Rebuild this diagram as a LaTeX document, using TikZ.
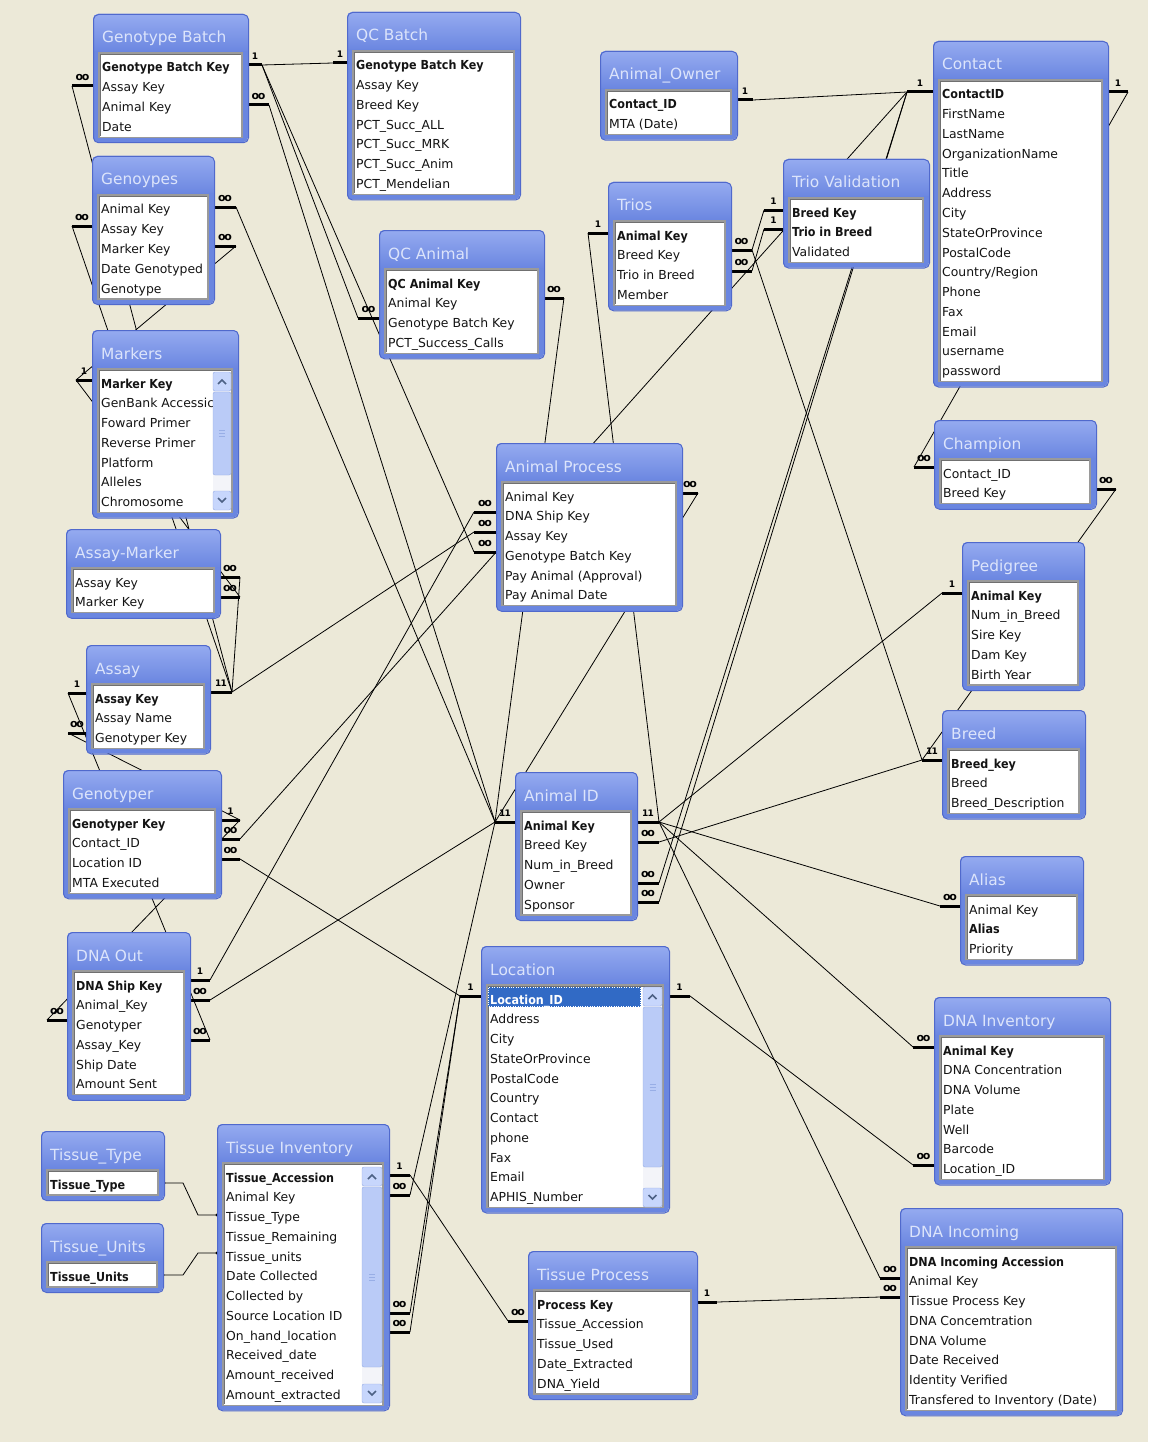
\documentclass[tikz,border=0pt]{standalone}
\usepackage{fontspec}
\usepackage{graphicx}
\setmainfont{DejaVu Sans}
\usetikzlibrary{calc}

\definecolor{bg}{HTML}{ECE9D8}
\definecolor{frameblue}{HTML}{6A86E0}
\definecolor{frameedge}{HTML}{5069CC}
\definecolor{titletop}{HTML}{95ABF0}
\definecolor{titlebot}{HTML}{6C87E1}
\definecolor{titletext}{HTML}{DCE4FB}
\definecolor{boxedge}{HTML}{9A9A9A}
\definecolor{boxdark}{HTML}{707070}
\definecolor{fieldink}{HTML}{141414}
\definecolor{sbtrack}{HTML}{F3F4F9}
\definecolor{sbbtn}{HTML}{C7D6FC}
\definecolor{sbthumb}{HTML}{BACBF7}
\definecolor{sbedge}{HTML}{98AEE6}
\definecolor{sbarrow}{HTML}{4D6185}
\definecolor{selblue}{HTML}{316AC5}

\tikzset{
  conn/.style={line width=0.8pt, black},
  stubline/.style={line width=3pt, black},
  card/.style={font=\fontsize{11}{11}\selectfont\bfseries, inner sep=0pt},
  tbltitle/.style={font=\fontsize{15.4}{16}\selectfont, text=titletext, anchor=base west, inner sep=0pt},
  fieldtext/.style={font=\fontsize{12.4}{14}\selectfont, text=fieldink, anchor=base west, inner sep=0pt},
}

% key fields: bold, slightly condensed
\newcommand\keyf[1]{\scalebox{0.9}[1]{\bfseries #1}}
% selected row text
\newcommand\selkey[1]{\textcolor{white}{\keyf{#1}}}
% cardinality marks
\newcommand\infsym{o\kern-1.3pt o}
\newcommand\onesym{{\fontsize{9}{9}\selectfont 1}}
\newcommand\twoone{{\fontsize{9}{9}\selectfont 1\kern-0.6pt 1}}

\newcommand\tblhook{}

% table: name, x0, x1, y0, number of fields, title, fields
\newcommand\erTable[7]{%
  \pgfmathsetmacro\tyb{#4+53+19.75*(#5-1)+16}
  \pgfmathsetmacro\tyi{#4+39}
  \pgfmathsetmacro\tyib{\tyb-5}
  \pgfmathsetmacro\txl{#2+6}
  \pgfmathsetmacro\txr{#3-6}
  \fill[frameblue, rounded corners=5pt] (#2,#4) rectangle (#3,\tyb);
  \begin{scope}
    \clip[rounded corners=5pt] (#2,#4) rectangle (#3,\tyb);
    \shade[top color=titletop, bottom color=titlebot] (#2,#4) rectangle (#3,{#4+37});
  \end{scope}
  \node[draw=frameedge, line width=1pt, rounded corners=5pt, inner sep=0pt,
        anchor=north west, minimum width={(#3-#2)*1pt}, minimum height={(\tyb-#4)*1pt}] (#1) at (#2,#4) {};
  \filldraw[fill=white, draw=boxedge, line width=1.4pt] (\txl,\tyi) rectangle (\txr,\tyib);
  \draw[boxdark, line width=0.8pt] ({\txl+1},{\tyib-1}) |- ({\txr-1},{\tyi+1});
  \tblhook
  \node[tbltitle] (#1-title) at ({#2+9},{#4+29}) {#6};
  \foreach \f [count=\i] in {#7} {
    \node[fieldtext] (#1-f\i) at ({#2+9},{#4+58+19.75*(\i-1)}) {\f};
  }
}

% vertical scroll bar: xl, xr, ytop, ybottom, thumb bottom
\newcommand\vscroll[5]{%
  \fill[sbtrack] (#1,#3) rectangle (#2,#4);
  \filldraw[fill=sbbtn, draw=sbedge, rounded corners=2pt] (#1,#3) rectangle (#2,{#3+19});
  \filldraw[fill=sbthumb, draw=sbedge, rounded corners=2pt] (#1,{#3+20}) rectangle (#2,#5);
  \filldraw[fill=sbbtn, draw=sbedge, rounded corners=2pt] (#1,{#4-19}) rectangle (#2,#4);
  \draw[sbarrow, line width=1.6pt] ({(#1+#2)/2-4},{#3+12}) -- ({(#1+#2)/2},{#3+8}) -- ({(#1+#2)/2+4},{#3+12});
  \draw[sbarrow, line width=1.6pt] ({(#1+#2)/2-4},{#4-12}) -- ({(#1+#2)/2},{#4-8}) -- ({(#1+#2)/2+4},{#4-12});
  \foreach \g in {-3,0,3}
    \draw[sbedge] ({(#1+#2)/2-3},{(#3+20+#5)/2+\g}) -- ({(#1+#2)/2+3},{(#3+20+#5)/2+\g});
}

% relationship end: name, table edge x, y, direction (+/-), mark, length
\newcommand\relstub[6]{%
  \coordinate (#1) at ({#2#4#6},#3);
  \draw[stubline] (#2,#3) -- (#1);
  \node[card] (#1-lab) at ({#2#4#6/2},{#3-9}) {#5};
}

\begin{document}
\begin{tikzpicture}[x=1pt,y=-1pt]
\fill[bg] (0,0) rectangle (1148,1442);
\useasboundingbox (0,0) rectangle (1148,1442);

% ---- relationship ends ----
\relstub{gbR1}{248}{65}{+}{\onesym}{14}
\relstub{gbR2}{248}{105}{+}{\infsym}{21}
\relstub{gbL}{93}{86}{-}{\infsym}{21}
\relstub{gyR1}{214}{207}{+}{\infsym}{22}
\relstub{gyR3}{214}{246}{+}{\infsym}{22}
\relstub{gyL}{92}{226}{-}{\infsym}{20}
\relstub{mkL}{92}{380}{-}{\onesym}{16}
\relstub{amR1}{220}{577}{+}{\infsym}{20}
\relstub{amR2}{220}{597}{+}{\infsym}{20}
\relstub{asR}{210}{692}{+}{\twoone}{22}
\relstub{asL1}{86}{693}{-}{\onesym}{18}
\relstub{asL2}{86}{733}{-}{\infsym}{18}
\relstub{gtR1}{221}{820}{+}{\onesym}{19}
\relstub{gtR2}{221}{839}{+}{\infsym}{19}
\relstub{gtR3}{221}{859}{+}{\infsym}{19}
\relstub{dnoR1}{190}{980}{+}{\onesym}{20}
\relstub{dnoR2}{190}{1000}{+}{\infsym}{20}
\relstub{dnoR4}{190}{1040}{+}{\infsym}{20}
\relstub{dnoL}{67}{1020}{-}{\infsym}{20}
\relstub{tiR1}{389}{1175}{+}{\onesym}{21}
\relstub{tiR2}{389}{1195}{+}{\infsym}{21}
\relstub{tiR8}{389}{1313}{+}{\infsym}{21}
\relstub{tiR9}{389}{1332}{+}{\infsym}{21}
\relstub{qcbL}{347}{63}{-}{\onesym}{14}
\relstub{qcaL}{379}{318}{-}{\infsym}{21}
\relstub{qcaR}{544}{298}{+}{\infsym}{20}
\relstub{aoR}{737}{100}{+}{\onesym}{16}
\relstub{trL}{608}{233}{-}{\onesym}{20}
\relstub{trR2}{731}{250}{+}{\infsym}{21}
\relstub{trR3}{731}{271}{+}{\infsym}{21}
\relstub{tvL1}{783}{210}{-}{\onesym}{19}
\relstub{tvL2}{783}{229}{-}{\onesym}{19}
\relstub{ctL}{933}{92}{-}{\onesym}{26}
\relstub{ctR}{1108}{92}{+}{\onesym}{20}
\relstub{chL}{934}{467}{-}{\infsym}{20}
\relstub{chR}{1096}{489}{+}{\infsym}{20}
\relstub{pdL}{962}{593}{-}{\onesym}{20}
\relstub{brL}{942}{760}{-}{\twoone}{20}
\relstub{apR}{682}{493}{+}{\infsym}{16}
\relstub{apL2}{496}{512}{-}{\infsym}{22}
\relstub{apL3}{496}{532}{-}{\infsym}{22}
\relstub{apL4}{496}{552}{-}{\infsym}{22}
\relstub{aidL}{515}{822}{-}{\twoone}{20}
\relstub{aidR1}{637}{822}{+}{\twoone}{22}
\relstub{aidR2}{637}{842}{+}{\infsym}{22}
\relstub{aidR4}{637}{883}{+}{\infsym}{22}
\relstub{aidR5}{637}{902}{+}{\infsym}{22}
\relstub{locL}{481}{996}{-}{\onesym}{21}
\relstub{locR}{669}{996}{+}{\onesym}{21}
\relstub{alL}{960}{906}{-}{\infsym}{20}
\relstub{dniL1}{934}{1047}{-}{\infsym}{21}
\relstub{dniL7}{934}{1165}{-}{\infsym}{21}
\relstub{dninL2}{900}{1278}{-}{\infsym}{20}
\relstub{dninL3}{900}{1297}{-}{\infsym}{20}
\relstub{tpL}{528}{1321}{-}{\infsym}{20}
\relstub{tpR}{697}{1302}{+}{\onesym}{20}

% ---- relationships ----
\draw[conn] (gbR1) -- (qcbL);
\draw[conn] (gbR1) -- (qcaL);
\draw[conn] (gbR1) -- (apL4);
\draw[conn] (gbR2) -- (aidL);
\draw[conn] (gbL) -- (asR);
\draw[conn] (gyL) -- (asR);
\draw[conn] (gyR1) -- (aidL);
\draw[conn] (gyR3) -- (mkL);
\draw[conn] (amR2) -- (mkL);
\draw[conn] (amR1) -- (asR);
\draw[conn] (asR) -- (apL3);
\draw[conn] (asL1) -- (dnoR4);
\draw[conn] (asL2) -- (gtR1);
\draw[conn] (dnoL) -- (gtR1);
\draw[conn] (gtR2) -- (ctL);
\draw[conn] (gtR3) -- (locL);
\draw[conn] (dnoR1) -- (apL2);
\draw[conn] (dnoR2) -- (aidL);
\draw[conn] (qcaR) -- (aidL);
\draw[conn] (apR) -- (aidL);
\draw[conn] (tiR2) -- (aidL);
\draw[conn] (tiR1) -- (tpL);
\draw[conn] (tiR8) -- (locL);
\draw[conn] (tiR9) -- (locL);
\draw[conn] (locR) -- (dniL7);
\draw[conn] (dniL1) -- (aidR1);
\draw[conn] (alL) -- (aidR1);
\draw[conn] (dninL2) -- (aidR1);
\draw[conn] (pdL) -- (aidR1);
\draw[conn] (trL) -- (aidR1);
\draw[conn] (aidR2) -- (brL);
\draw[conn] (trR2) -- (brL);
\draw[conn] (trR2) -- (tvL1);
\draw[conn] (trR3) -- (tvL2);
\draw[conn] (chR) -- (brL);
\draw[conn] (chL) -- (ctR);
\draw[conn] (aoR) -- (ctL);
\draw[conn] (aidR4) -- (ctL);
\draw[conn] (aidR5) -- (ctL);
\draw[conn] (tpR) -- (dninL3);

% lookup links of the tissue tables
\coordinate (ttR) at (164,1183);
\coordinate (tiTT) at (217,1215);
\coordinate (tuR) at (163,1275);
\coordinate (tiTU) at (217,1253);
\draw[conn] (ttR) -- ++(19,0) -- ($(tiTT)+(-19,0)$) -- (tiTT);
\draw[conn] (tuR) -- ++(20,0) -- ($(tiTU)+(-19,0)$) -- (tiTU);
\foreach \p in {ttR,tiTT,tuR,tiTU} \fill (\p) circle (1.6pt);

% ---- tables ----
\erTable{gb}{93}{248}{14}{4}{Genotype Batch}{\keyf{Genotype Batch Key},Assay Key,Animal Key,Date}
\erTable{gy}{92}{214}{156}{5}{Genoypes}{Animal Key,Assay Key,Marker Key,Date Genotyped,Genotype}
\erTable{mk}{92}{238}{330}{7}{Markers}{\keyf{Marker Key},GenBank Accessic,Foward Primer,Reverse Primer,Platform,Alleles,Chromosome}
\vscroll{213}{231}{372}{510}{475}
\erTable{am}{66}{220}{529}{2}{Assay-Marker}{Assay Key,Marker Key}
\erTable{as}{86}{210}{645}{3}{Assay}{\keyf{Assay Key},Assay Name,Genotyper Key}
\erTable{gt}{63}{221}{770}{4}{Genotyper}{\keyf{Genotyper Key},Contact\_ID,Location ID,MTA Executed}
\erTable{dno}{67}{190}{932}{6}{DNA Out}{\keyf{DNA Ship Key},Animal\_Key,Genotyper,Assay\_Key,Ship Date,Amount Sent}
\erTable{tt}{41}{164}{1131}{1}{Tissue\_Type}{\keyf{Tissue\_Type}}
\erTable{tu}{41}{163}{1223}{1}{Tissue\_Units}{\keyf{Tissue\_Units}}
\erTable{ti}{217}{389}{1124}{12}{Tissue Inventory}{\keyf{Tissue\_Accession},Animal Key,Tissue\_Type,Tissue\_Remaining,Tissue\_units,Date Collected,Collected by,Source Location ID,On\_hand\_location,Received\_date,Amount\_received,Amount\_extracted}
\vscroll{362}{382}{1167}{1403}{1367}
\erTable{qcb}{347}{520}{12}{7}{QC Batch}{\keyf{Genotype Batch Key},Assay Key,Breed Key,PCT\_Succ\_ALL,PCT\_Succ\_MRK,PCT\_Succ\_Anim,PCT\_Mendelian}
\erTable{qca}{379}{544}{230}{4}{QC Animal}{\keyf{QC Animal Key},Animal Key,Genotype Batch Key,PCT\_Success\_Calls}
\erTable{ao}{600}{737}{51}{2}{Animal\_Owner}{\keyf{Contact\_ID},MTA (Date)}
\erTable{tr}{608}{731}{182}{4}{Trios}{\keyf{Animal Key},Breed Key,Trio in Breed,Member}
\erTable{tv}{783}{929}{159}{3}{Trio Validation}{\keyf{Breed Key},\keyf{Trio in Breed},Validated}
\erTable{ct}{933}{1108}{41}{15}{Contact}{\keyf{ContactID},FirstName,LastName,OrganizationName,Title,Address,City,StateOrProvince,PostalCode,Country/Region,Phone,Fax,Email,username,password}
\erTable{ch}{934}{1096}{420}{2}{Champion}{Contact\_ID,Breed Key}
\erTable{pd}{962}{1084}{542}{5}{Pedigree}{\keyf{Animal Key},Num\_in\_Breed,Sire Key,Dam Key,Birth Year}
\erTable{br}{942}{1085}{710}{3}{Breed}{\keyf{Breed\_key},Breed,Breed\_Description}
\erTable{ap}{496}{682}{443}{6}{Animal Process}{Animal Key,DNA Ship Key,Assay Key,Genotype Batch Key,Pay Animal (Approval),Pay Animal Date}
\erTable{aid}{515}{637}{772}{5}{Animal ID}{\keyf{Animal Key},Breed Key,Num\_in\_Breed,Owner,Sponsor}
\renewcommand\tblhook{\fill[selblue] (488,987) rectangle (641,1007);
  \draw[white, dotted] (488.5,987.5) rectangle (640.5,1006.5);}
\erTable{loc}{481}{669}{946}{11}{Location}{\selkey{Location\_ID},Address,City,StateOrProvince,PostalCode,Country,Contact,phone,Fax,Email,APHIS\_Number}
\renewcommand\tblhook{}
\vscroll{643}{662}{987}{1207}{1167}
\erTable{al}{960}{1083}{856}{3}{Alias}{Animal Key,\keyf{Alias},Priority}
\erTable{dni}{934}{1110}{997}{7}{DNA Inventory}{\keyf{Animal Key},DNA Concentration,DNA Volume,Plate,Well,Barcode,Location\_ID}
\erTable{dnin}{900}{1122}{1208}{8}{DNA Incoming}{\keyf{DNA Incoming Accession},Animal Key,Tissue Process Key,DNA Concemtration,DNA Volume,Date Received,Identity Verified,Transfered to Inventory (Date)}
\erTable{tp}{528}{697}{1251}{5}{Tissue Process}{\keyf{Process Key},Tissue\_Accession,Tissue\_Used,Date\_Extracted,DNA\_Yield}
\end{tikzpicture}
\end{document}
